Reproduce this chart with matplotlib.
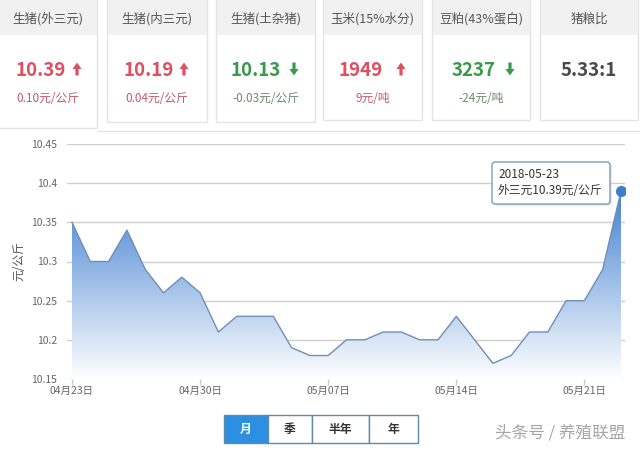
import numpy as np
import matplotlib
matplotlib.use('Agg')
import matplotlib.pyplot as plt
from matplotlib.patches import Rectangle, FancyBboxPatch, Polygon
from matplotlib.colors import LinearSegmentedColormap

plt.rcParams['font.family'] = ['Noto Sans CJK SC', 'DejaVu Sans']

# ---------------- data ----------------
dates = ['04-23', '04-24', '04-25', '04-26', '04-27', '04-28', '04-29', '04-30',
         '05-01', '05-02', '05-03', '05-04', '05-05', '05-06', '05-07', '05-08',
         '05-09', '05-10', '05-11', '05-12', '05-13', '05-14', '05-15', '05-16',
         '05-17', '05-18', '05-19', '05-20', '05-21', '05-22', '05-23']
prices = [10.35, 10.30, 10.30, 10.34, 10.29, 10.26, 10.28, 10.26, 10.21, 10.23,
          10.23, 10.23, 10.19, 10.18, 10.18, 10.20, 10.20, 10.21, 10.21, 10.20,
          10.20, 10.23, 10.20, 10.17, 10.18, 10.21, 10.21, 10.25, 10.25, 10.29,
          10.39]
xtick_idx = [0, 7, 14, 21, 28]
xtick_labels = ['04月23日', '04月30日', '05月07日', '05月14日', '05月21日']
ytick_vals = [10.15, 10.2, 10.25, 10.3, 10.35, 10.4, 10.45]
ytick_labels = ['10.15', '10.2', '10.25', '10.3', '10.35', '10.4', '10.45']

card_titles = ['生猪(外三元)', '生猪(内三元)', '生猪(土杂猪)', '玉米(15%水分)', '豆粕(43%蛋白)', '猪粮比']
card_values = ['10.39', '10.19', '10.13', '1949', '3237', '5.33:1']
card_dirs = ['up', 'up', 'down', 'up', 'down', None]
card_changes = ['0.10元/公斤', '0.04元/公斤', '-0.03元/公斤', '9元/吨', '-24元/吨', '']

buttons = ['月', '季', '半年', '年']
tooltip_date = '2018-05-23'
tooltip_text = '外三元10.39元/公斤'

# ---------------- figure ----------------
W, H = 640, 451
fig = plt.figure(figsize=(W / 100, H / 100), dpi=100)
fig.patch.set_facecolor('white')

bg = fig.add_axes([0, 0, 1, 1], zorder=0)
bg.set_xlim(0, W); bg.set_ylim(H, 0); bg.axis('off')


def arrow(axx, cx, cy, up, color):
    h, hw, hh, sw = 13, 9, 6.5, 3.2
    if up:
        t, b = cy - h / 2, cy + h / 2
        pts = [(cx, t), (cx + hw / 2, t + hh), (cx + sw / 2, t + hh), (cx + sw / 2, b),
               (cx - sw / 2, b), (cx - sw / 2, t + hh), (cx - hw / 2, t + hh)]
    else:
        t, b = cy - h / 2, cy + h / 2
        pts = [(cx, b), (cx + hw / 2, b - hh), (cx + sw / 2, b - hh), (cx + sw / 2, t),
               (cx - sw / 2, t), (cx - sw / 2, b - hh), (cx - hw / 2, b - hh)]
    axx.add_patch(Polygon(pts, closed=True, facecolor=color, edgecolor='none', zorder=3))


# cards
card_x = [(-3, 97), (107, 207), (216, 315), (323, 422), (432, 530), (540, 638)]
card_bottom = [128, 122, 122, 120, 120, 120]
val_end = [66, 174, 281, 383, 496, None]
arrow_x = [77, 184, 294, 401, 510, None]
red = '#de4f5f'
green = '#3a9a4c'
for i, (x0, x1) in enumerate(card_x):
    bg.add_patch(Rectangle((x0, -2), x1 - x0, card_bottom[i] + 2, facecolor='white',
                           edgecolor='#e3e3e3', lw=1, zorder=1))
    bg.add_patch(Rectangle((x0 + 0.5, -2), x1 - x0 - 1, 37, facecolor='#f1f1f1',
                           edgecolor='none', zorder=2))
    cx = (x0 + x1) / 2 if i > 0 else 48
    bg.text(cx, 19, card_titles[i], ha='center', va='center', fontsize=9,
            color='#555555', zorder=3)
    d = card_dirs[i]
    if d is None:
        bg.text(cx, 70, card_values[i], ha='center', va='center', fontsize=13.5,
                fontweight='bold', color='#4a4a4a', zorder=3)
    else:
        col = red if d == 'up' else green
        bg.text(val_end[i], 70, card_values[i], ha='right', va='center', fontsize=13.5,
                fontweight='bold', color=col, zorder=3)
        arrow(bg, arrow_x[i], 69, d == 'up', col)
        subcol = '#c45a6a' if d == 'up' else '#6a8a6c'
        bg.text(cx, 98, card_changes[i], ha='center', va='center', fontsize=8.5,
                color=subcol, zorder=3)

bg.plot([97, 640], [131, 131], color='#e2e2e2', lw=1, zorder=1)

# ---------------- chart ----------------
ax_l, ax_r, ax_t, ax_b = 67, 625, 144, 379
ax = fig.add_axes([ax_l / W, 1 - ax_b / H, (ax_r - ax_l) / W, (ax_b - ax_t) / H], zorder=1)
ax.patch.set_alpha(0)
x = np.arange(len(prices))
px_per = 18.3
xmin = -(72 - ax_l) / px_per
xmax = 30 + (ax_r - 621) / px_per
ax.set_xlim(xmin, xmax)
ax.set_ylim(10.15, 10.45)

for v in ytick_vals:
    ax.axhline(v, color='#cfcfcf', lw=1, zorder=1)

cmap = LinearSegmentedColormap.from_list('g', ['#ffffff', '#3b7dd0'])
grad = np.linspace(0, 1, 256).reshape(-1, 1)
im = ax.imshow(grad, cmap=cmap, aspect='auto', origin='lower',
               extent=[0, 30, 10.15, 10.40], zorder=2)
poly = ax.fill_between(x, prices, 10.15, facecolor='none', edgecolor='none')
im.set_clip_path(poly.get_paths()[0], transform=ax.transData)

ax.plot(x, prices, color='#6f8fb4', lw=1.0, zorder=3)
ax.plot([x[-1]], [prices[-1]], 'o', color='#3a7fcf', markersize=7, zorder=4)

ax.set_yticks(ytick_vals)
ax.set_yticklabels(ytick_labels)
ax.set_xticks(xtick_idx)
ax.set_xticklabels(xtick_labels)
ax.tick_params(axis='y', length=0, pad=7, labelsize=7.5, labelcolor='#666666')
ax.tick_params(axis='x', length=4, width=1, color='#cccccc', pad=1, labelsize=7.5,
               labelcolor='#666666')
for s in ax.spines.values():
    s.set_visible(False)
ax.set_ylabel('元/公斤', fontsize=8.5, color='#555555', labelpad=4)

# ---------------- overlay ----------------
top = fig.add_axes([0, 0, 1, 1], zorder=3)
top.set_xlim(0, W); top.set_ylim(H, 0); top.axis('off')
top.patch.set_alpha(0)

top.add_patch(FancyBboxPatch((494, 164), 118, 42, boxstyle='round,pad=0,rounding_size=3',
                             facecolor='#dcdcdc', edgecolor='none', alpha=0.6))
top.add_patch(FancyBboxPatch((492, 162), 118, 42, boxstyle='round,pad=0,rounding_size=3',
                             facecolor='white', edgecolor='#7f9bb8', lw=1))
top.text(498, 175, tooltip_date, ha='left', va='center', fontsize=8.5, color='#333333')
top.text(498, 191, tooltip_text, ha='left', va='center', fontsize=8.5, color='#333333')

btn_x = [224, 268, 312, 369, 418]
for i, lab in enumerate(buttons):
    x0, x1 = btn_x[i], btn_x[i + 1]
    active = i == 0
    top.add_patch(Rectangle((x0, 415), x1 - x0, 28,
                            facecolor='#2d8fe2' if active else 'white',
                            edgecolor='#5b8bab', lw=1))
    top.text((x0 + x1) / 2, 429, lab, ha='center', va='center', fontsize=8.5,
             fontweight='bold', color='white' if active else '#333333')

top.text(560, 433, '头条号 / 养殖联盟', ha='center', va='center', fontsize=12,
         color='#a5a5a5')

fig.savefig('out.png', dpi=100, facecolor='white')
